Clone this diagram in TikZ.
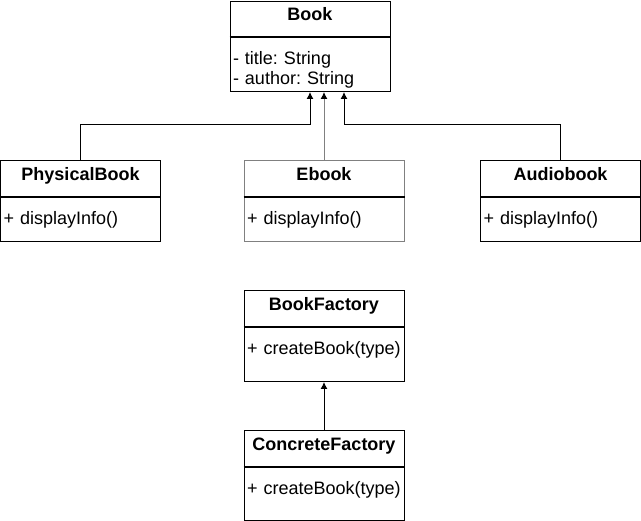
\documentclass[tikz,border=0pt]{standalone}
\usepackage{fontspec}
\setmainfont{Liberation Sans}
\usetikzlibrary{positioning,arrows.meta}
\definecolor{edgegray}{HTML}{808080}
\begin{document}
\frenchspacing
\begin{tikzpicture}[x=1pt, y=-1pt, line width=1pt,
		head/.style={draw, anchor=north, text width=154pt, align=center, inner xsep=3pt, inner ysep=0pt, text height=20pt, text depth=16pt, font=\fontsize{18}{20}\selectfont\bfseries},
		body/.style={draw, text width=154pt, align=left, inner xsep=3pt, inner ysep=0pt, text height=27pt, font=\fontsize{18}{20}\selectfont},
		inh/.style={-{Latex[length=7pt,width=7pt,color=black]}}]
			\useasboundingbox (0,0) rectangle (641,521);
			\node[head, text height=19pt] (B_h) at (310,1) {Book};
			\node[body, text depth=27pt, below=0pt of B_h] (B_b) {- title: String\\- author: String};
			\node[head] (P_h) at (80.5,160) {PhysicalBook};
			\node[body, text depth=17pt, below=0pt of P_h] (P_b) {+ displayInfo()};
			\node[head, edgegray, text=black] (E_h) at (324,160) {Ebook};
			\node[body, edgegray, text=black, text depth=17pt, below=0pt of E_h] (E_b) {+ displayInfo()};
			\node[head] (A_h) at (560.5,160) {Audiobook};
			\node[body, text depth=17pt, below=0pt of A_h] (A_b) {+ displayInfo()};
			\draw[inh] (P_h.north) -- ++(0,-35) -| (B_b.south);
			\draw[inh, edgegray] (E_h.north) -- (E_h.north |- B_b.south);
			\draw[inh] (A_h.north) -- ++(0,-35) -| ([xshift=34pt]B_b.south);
			\node[head] (F_h) at (324,290) {BookFactory};
			\node[body, text depth=27pt, below=0pt of F_h] (F_b) {+ createBook(type)};
			\node[head] (C_h) at (324,430) {ConcreteFactory};
			\node[body, text depth=26pt, below=0pt of C_h] (C_b) {+ createBook(type)};
			\draw[inh] (C_h.north) -- (F_b.south);
			% thicker line under each class name
			\foreach \n in {B_h,P_h,E_h,A_h,F_h,C_h}
				\draw[line width=2pt] (\n.south west) -- (\n.south east);
		\end{tikzpicture}
\end{document}
